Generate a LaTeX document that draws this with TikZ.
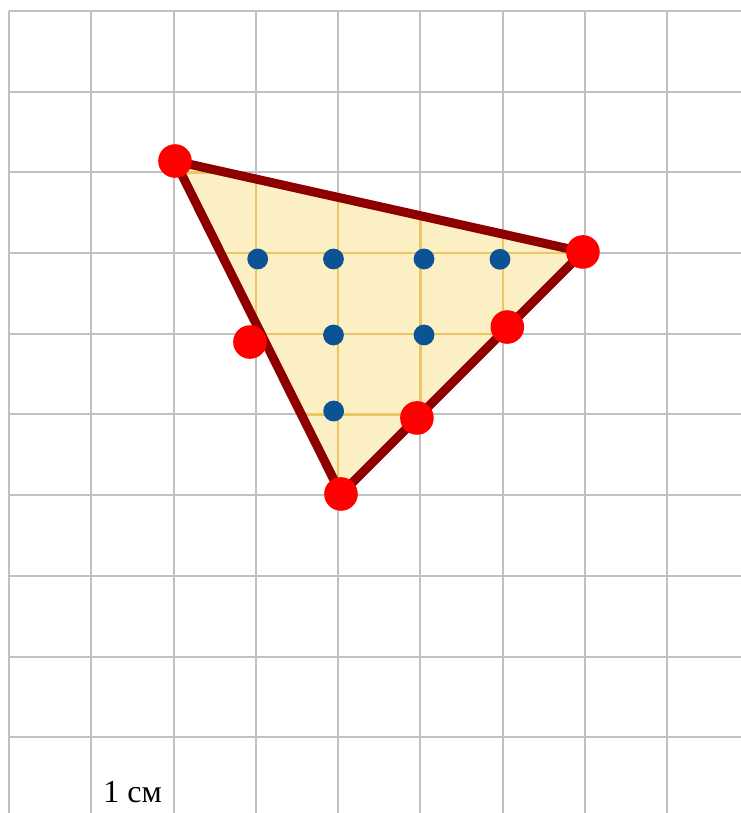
\documentclass[tikz,border=0pt]{standalone}
\usepackage{fontspec}
\usepackage{xcolor}
\usepackage{tikz}
\usetikzlibrary{calc}
\newfontfamily\cyrfont{Liberation Serif}

\definecolor{gridgray}{HTML}{C0C0C0}
\definecolor{trifill}{HTML}{FDEFC4}
\definecolor{trigrid}{HTML}{ECC565}
\definecolor{edgered}{HTML}{8E0000}
\definecolor{dotred}{HTML}{FF0000}
\definecolor{dotblue}{HTML}{0B5394}

\begin{document}
\begin{tikzpicture}[x=41.15pt, y=-40.35pt]

    % =================================================================
    % 1. KHUNG NỀN VÀ LƯỚI Ô VUÔNG
    % =================================================================
    \useasboundingbox (-0.109,-0.136) rectangle (8.894,9.938);
    \fill[white] (-0.109,-0.136) rectangle (8.894,9.938);

    \foreach \x in {0,...,8} {
        \draw[gridgray, line width=1pt] (\x,0) -- (\x,9.938);
    }
    \foreach \y in {0,...,9} {
        \draw[gridgray, line width=1pt] (0,\y) -- (8.894,\y);
    }

    % =================================================================
    % 2. TAM GIÁC TÔ MÀU VÀ LƯỚI BÊN TRONG
    % =================================================================
    \coordinate (A) at (2.017,1.859);
    \coordinate (B) at (6.974,2.986);
    \coordinate (C) at (4.034,5.985);

    \fill[trifill] (A) -- (B) -- (C) -- cycle;
    \begin{scope}
        \clip (A) -- (B) -- (C) -- cycle;
        \foreach \x in {2,...,7} {
            \draw[trigrid, line width=1.2pt] (\x,1) -- (\x,7);
        }
        \foreach \y in {1,...,6} {
            \draw[trigrid, line width=1.2pt] (1,\y) -- (8,\y);
        }
    \end{scope}

    % Cạnh tam giác
    \draw[edgered, line width=4.5pt, line join=round] (A) -- (B) -- (C) -- cycle;

    % =================================================================
    % 3. CÁC ĐIỂM NÚT TRÊN BIÊN VÀ BÊN TRONG
    % =================================================================
    % Điểm trên biên (đỏ)
    \foreach \v in {A, B, C} {
        \fill[dotred] (\v) circle (8.4pt);
    }
    \foreach \x/\y in {2.928/4.102, 6.055/3.916, 4.957/5.043} {
        \fill[dotred] (\x,\y) circle (8.4pt);
    }

    % Điểm bên trong (xanh)
    \foreach \x/\y in {3.022/3.073, 3.943/3.073, 5.043/3.073, 5.966/3.077,
                       3.943/4.015, 5.043/4.015, 3.945/4.957} {
        \fill[dotblue] (\x,\y) circle (5.2pt);
    }

    % =================================================================
    % 4. NHÃN ĐƠN VỊ
    % =================================================================
    \node[anchor=base west, inner sep=0pt,
          font=\cyrfont\fontsize{16}{19}\selectfont] (unit) at (1.142,9.802) {1 см};

\end{tikzpicture}
\end{document}
